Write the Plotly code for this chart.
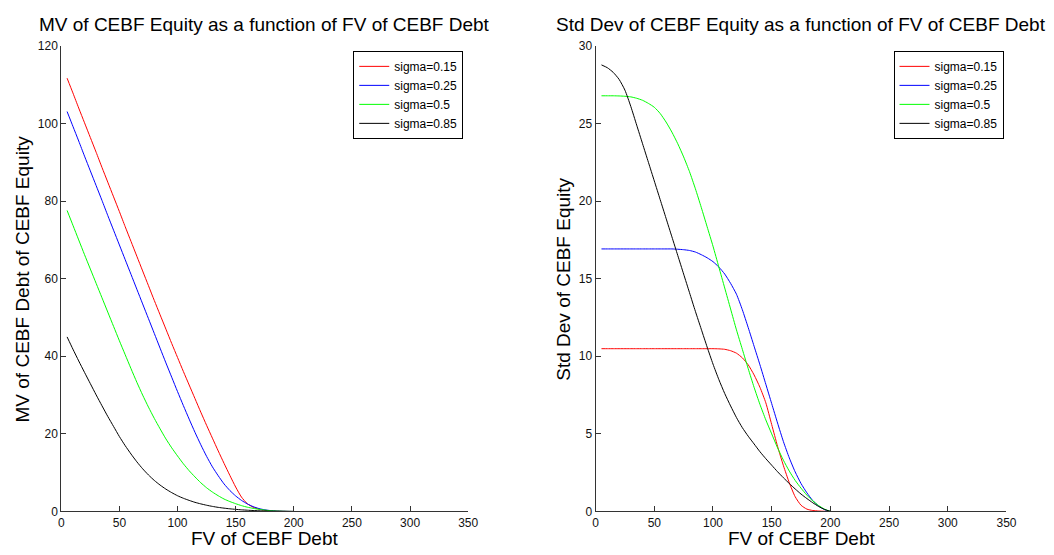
import plotly.graph_objects as go

# ---------------- data ----------------
fv = [5, 10, 15, 20, 25, 30, 35, 40, 45, 50, 55, 60, 65, 70, 75, 80, 85, 90, 95, 100,
      105, 110, 115, 120, 125, 130, 135, 140, 145, 150, 155, 160, 165, 170, 175, 180,
      185, 190, 195, 200]

labels = ["sigma=0.15", "sigma=0.25", "sigma=0.5", "sigma=0.85"]
colors = ["#FF0000", "#0000FF", "#00FF00", "#000000"]

# MV of CEBF equity
mv_015 = [111.7, 107.9, 104.0, 100.2, 96.4, 92.6, 88.7, 84.9, 81.1, 77.3, 73.4, 69.6, 65.8,
          62.0, 58.2, 54.4, 50.7, 47.0, 43.3, 39.7, 36.1, 32.6, 29.1, 25.6, 22.2, 18.9, 15.6,
          12.4, 9.3, 6.3, 3.7, 2.0, 1.1, 0.6, 0.3, 0.14, 0.07, 0.03, 0.01, 0.0]
mv_025 = [103.1, 99.3, 95.5, 91.6, 87.8, 84.0, 80.2, 76.3, 72.5, 68.7, 64.9, 61.1, 57.3,
          53.5, 49.7, 45.9, 42.1, 38.3, 34.6, 30.9, 27.3, 23.8, 20.4, 17.2, 14.2, 11.5, 9.2,
          7.1, 5.4, 4.0, 2.85, 1.95, 1.25, 0.75, 0.42, 0.22, 0.11, 0.05, 0.02, 0.0]
mv_050 = [77.6, 73.8, 70.0, 66.2, 62.5, 58.8, 55.1, 51.4, 47.7, 44.0, 40.4, 36.8, 33.3,
          30.0, 26.9, 24.0, 21.3, 18.7, 16.4, 14.3, 12.3, 10.5, 8.9, 7.4, 6.1, 5.0, 4.05,
          3.2, 2.55, 2.0, 1.5, 1.1, 0.8, 0.55, 0.35, 0.2, 0.1, 0.05, 0.02, 0.0]
mv_085 = [45.0, 41.85, 38.8, 35.85, 32.95, 30.05, 27.25, 24.5, 21.9, 19.3, 16.95, 14.8, 12.8,
          11.0, 9.4, 8.0, 6.8, 5.75, 4.85, 4.05, 3.4, 2.85, 2.35, 1.95, 1.6, 1.3, 1.05,
          0.85, 0.68, 0.54, 0.42, 0.32, 0.24, 0.17, 0.12, 0.08, 0.05, 0.03, 0.01, 0.0]

# Std dev of CEBF equity
sd_015 = [10.49, 10.49, 10.49, 10.49, 10.49, 10.49, 10.49, 10.49, 10.49, 10.49, 10.49, 10.49,
          10.49, 10.49, 10.49, 10.49, 10.49, 10.49, 10.49, 10.49, 10.48, 10.45, 10.36, 10.2,
          9.9, 9.45, 8.8, 8.0, 7.0, 5.6, 4.2, 2.95, 1.85, 0.95, 0.4, 0.15, 0.06, 0.03, 0.01, 0.0]
sd_025 = [16.92, 16.92, 16.92, 16.92, 16.92, 16.92, 16.92, 16.92, 16.92, 16.92, 16.92, 16.92,
          16.92, 16.9, 16.87, 16.82, 16.72, 16.55, 16.35, 16.1, 15.75, 15.3, 14.7, 14.0,
          13.0, 11.85, 10.65, 9.45, 8.2, 6.95, 5.7, 4.5, 3.45, 2.55, 1.8, 1.2, 0.7, 0.35, 0.12, 0.0]
sd_050 = [26.79, 26.79, 26.79, 26.78, 26.76, 26.72, 26.63, 26.5, 26.3, 26.05, 25.65, 25.1,
          24.45, 23.7, 22.85, 21.9, 20.8, 19.6, 18.35, 17.1, 15.75, 14.4, 13.05, 11.7, 10.45,
          9.2, 8.0, 6.9, 5.9, 5.0, 4.1, 3.3, 2.6, 2.0, 1.5, 1.05, 0.68, 0.38, 0.15, 0.0]
sd_085 = [28.78, 28.6, 28.3, 27.85, 27.15, 26.1, 24.9, 23.7, 22.5, 21.3, 20.1, 18.9, 17.7,
          16.5, 15.3, 14.1, 12.9, 11.75, 10.6, 9.5, 8.5, 7.6, 6.8, 6.05, 5.4, 4.85, 4.35,
          3.85, 3.4, 2.98, 2.56, 2.17, 1.8, 1.45, 1.12, 0.83, 0.56, 0.32, 0.13, 0.0]

x_ticks = [0, 50, 100, 150, 200, 250, 300, 350]
y1_ticks = [0, 20, 40, 60, 80, 100, 120]
y2_ticks = [0, 5, 10, 15, 20, 25, 30]

title_left = "MV of CEBF Equity as a function of FV of CEBF Debt"
title_right = "Std Dev of CEBF Equity as a function of FV of CEBF Debt"
xlabel = "FV of CEBF Debt"
ylabel_left = "MV of CEBF Debt of CEBF Equity"
ylabel_right = "Std Dev of CEBF Equity"

# ---------------- figure ----------------
W, H = 1054, 555
FONT = "Liberation Sans, Arial, Helvetica, sans-serif"

fig = go.Figure()
for ys, lab, col in zip([mv_015, mv_025, mv_050, mv_085], labels, colors):
    fig.add_trace(go.Scatter(x=fv, y=ys, mode="lines", name=lab,
                             line=dict(color=col, width=1, shape="spline", smoothing=0.6),
                             xaxis="x", yaxis="y", legend="legend"))
for ys, lab, col in zip([sd_015, sd_025, sd_050, sd_085], labels, colors):
    fig.add_trace(go.Scatter(x=fv, y=ys, mode="lines", name=lab,
                             line=dict(color=col, width=1, shape="spline", smoothing=0.6),
                             xaxis="x2", yaxis="y2", legend="legend2"))

L1, R1 = 59, 471
L2, R2 = 600, 1016
TOP, BOT = 40, 517.5
ydom = [1 - BOT / H, 1 - TOP / H]

axis_common = dict(showgrid=False, zeroline=False, showline=True, linecolor="#333333",
                   linewidth=1, ticks="inside", ticklen=5, tickcolor="#333333",
                   tickfont=dict(family=FONT, size=12, color="#111111"), mirror=False)

legend_common = dict(y=1 - 45 / H, yanchor="top", xanchor="right",
                     bordercolor="black", borderwidth=1, bgcolor="white",
                     font=dict(family=FONT, size=12, color="black"), tracegroupgap=0)

fig.update_layout(
    width=W, height=H, margin=dict(l=0, r=0, t=0, b=0),
    paper_bgcolor="white", plot_bgcolor="white",
    font=dict(family=FONT, color="black"),
    xaxis=dict(domain=[L1 / W, R1 / W], range=[0, 350], tickvals=x_ticks, anchor="y", **axis_common),
    yaxis=dict(domain=ydom, range=[0, 120], tickvals=y1_ticks, anchor="x", **axis_common),
    xaxis2=dict(domain=[L2 / W, R2 / W], range=[0, 350], tickvals=x_ticks, anchor="y2", **axis_common),
    yaxis2=dict(domain=ydom, range=[0, 30], tickvals=y2_ticks, anchor="x2", **axis_common),
    legend=dict(x=(R1 - 5) / W, **legend_common),
    legend2=dict(x=(R2 - 3) / W, **legend_common),
    showlegend=True,
)

TS = 19
ann = []
ann.append(dict(text=title_left, x=(L1 + R1) / 2 / W, y=1 - 18 / H, xref="paper", yref="paper",
                showarrow=False, font=dict(family=FONT, size=TS, color="black"),
                xanchor="center", yanchor="middle"))
ann.append(dict(text=title_right, x=(L2 + R2) / 2 / W, y=1 - 18 / H, xref="paper", yref="paper",
                showarrow=False, font=dict(family=FONT, size=TS, color="black"),
                xanchor="center", yanchor="middle"))
for (l, r) in [(L1, R1), (L2, R2)]:
    ann.append(dict(text=xlabel, x=(l + r) / 2 / W, y=1 - 545 / H, xref="paper", yref="paper",
                    showarrow=False, font=dict(family=FONT, size=TS, color="black"),
                    xanchor="center", yanchor="middle"))
ann.append(dict(text=ylabel_left, x=20 / W, y=1 - (TOP + BOT) / 2 / H, xref="paper", yref="paper",
                showarrow=False, textangle=-90, font=dict(family=FONT, size=TS, color="black"),
                xanchor="center", yanchor="middle"))
ann.append(dict(text=ylabel_right, x=568 / W, y=1 - (TOP + BOT) / 2 / H, xref="paper", yref="paper",
                showarrow=False, textangle=-90, font=dict(family=FONT, size=TS, color="black"),
                xanchor="center", yanchor="middle"))
fig.update_layout(annotations=ann)

fig.write_html("out.html")
